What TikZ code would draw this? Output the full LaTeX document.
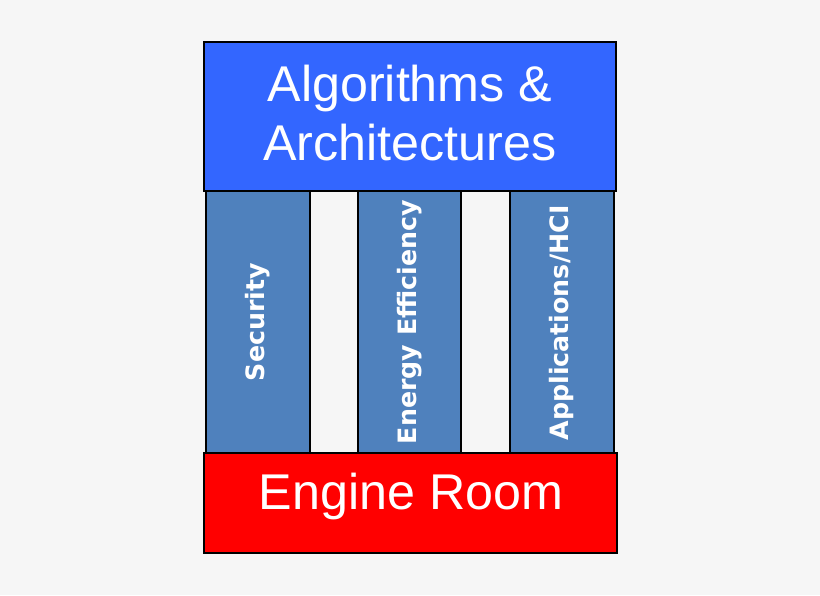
\documentclass[tikz,border=0pt]{standalone}
\usepackage{fontspec}
\setmainfont{Liberation Sans}
\newfontfamily\pillarfont{DejaVu Sans}
\definecolor{topblue}{HTML}{3366FF}
\definecolor{pillarblue}{HTML}{4F81BD}
\definecolor{roomred}{HTML}{FF0000}
\definecolor{bggray}{HTML}{F6F6F6}
\begin{document}
\begin{tikzpicture}[x=0.02cm,y=-0.02cm,
    block/.style={draw=black,thick},
    pillar/.style={block,fill=pillarblue},
    pillartext/.style={text=white,rotate=90,font=\pillarfont\bfseries\fontsize{14.4}{16}\selectfont},
    bigtext/.style={text=white,align=center,font=\fontsize{28.6}{34}\selectfont}]
  % background and page size
  \fill[bggray] (0,0) rectangle (820,595);
  % pillars
  \draw[pillar] (206,191) rectangle (310,453);
  \draw[pillar] (358,191) rectangle (461,453);
  \draw[pillar] (510,191) rectangle (614,453);
  \node[pillartext] (security) at (258,322) {Security};
  \node[pillartext] (energy) at (410,322) {Energy Efficiency};
  \node[pillartext] (apps) at (562,323) {Applications/HCI};
  % top and bottom blocks
  \draw[block,fill=topblue] (204,42) rectangle (616,191);
  \node[bigtext] (algo) at (410,113) {Algorithms \&\\Architectures};
  \draw[block,fill=roomred] (204,453) rectangle (617,553);
  \node[bigtext] (engine) at (411,496) {Engine Room};
\end{tikzpicture}
\end{document}
